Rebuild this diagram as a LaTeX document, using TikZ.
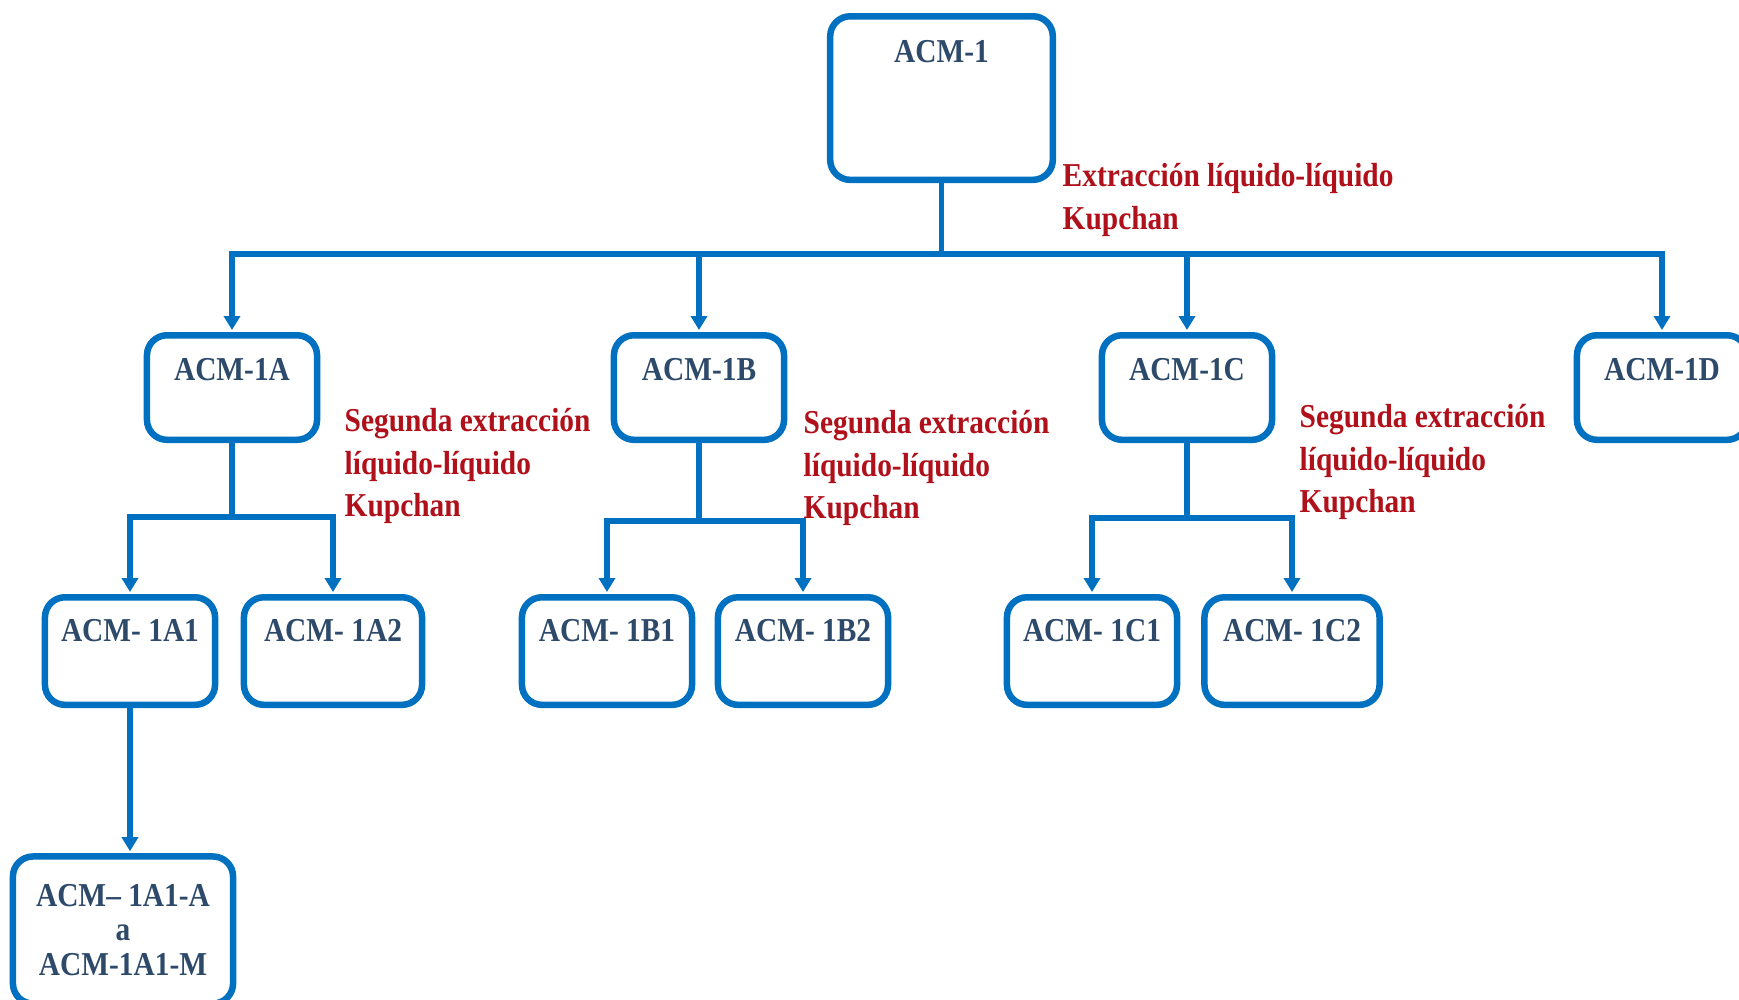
\documentclass[tikz,border=0pt]{standalone}
\usepackage{fontspec}
\setmainfont{Liberation Serif}[FakeStretch=0.88]
\usetikzlibrary{positioning,arrows.meta}
\definecolor{boxblue}{HTML}{0070C0}
\definecolor{idtext}{HTML}{2E4A6B}
\definecolor{stepred}{HTML}{B0101A}
\tikzset{
  box/.style={rectangle, draw=boxblue, line width=1.85pt, rounded corners=0.2cm, fill=white,
              inner sep=0pt, minimum width=1.70cm, anchor=north,
              font=\fontsize{9.5}{11}\selectfont\bfseries, text=idtext},
  lvltwo/.style={box, text height=0.45cm, text depth=0.595cm},
  lvlthree/.style={box, text height=0.44cm, text depth=0.635cm},
  note/.style={font=\fontsize{9.5}{12}\selectfont\bfseries, text=stepred,
               align=left, anchor=north west, inner sep=0pt},
  link/.style={draw=boxblue, line width=1.55pt},
  arr/.style={link, -{Triangle[width=0.16cm, length=0.14cm]}, shorten >=0.02cm},
}

\begin{document}
\begin{tikzpicture}[x=0.01cm, y=-0.01cm]
\useasboundingbox (0,0) rectangle (1739,999);

% crude extract
\node[box, minimum width=2.225cm, text height=0.46cm, text depth=1.175cm] (acm1) at (941.5,13) {ACM-1};
\node[note] (kupchan) at (1062,163) {Extracción líquido-líquido\\Kupchan};

% first partition
\node[lvltwo] (acm1a) at (232,332) {ACM-1A};
\node[lvltwo] (acm1b) at (699,332) {ACM-1B};
\node[lvltwo] (acm1c) at (1187,332) {ACM-1C};
\node[lvltwo] (acm1d) at (1662,332) {ACM-1D};

\coordinate (split1) at (941.5,254);
\draw[link] (acm1) -- (split1);
\foreach \n in {acm1a,acm1b,acm1c,acm1d}
  \draw[arr] (split1) -| (\n);

% second partition
\node[note] (kupa) at (344,408) {Segunda extracción\\líquido-líquido\\Kupchan};
\node[note] (kupb) at (803,410) {Segunda extracción\\líquido-líquido\\Kupchan};
\node[note] (kupc) at (1299,404) {Segunda extracción\\líquido-líquido\\Kupchan};

\node[lvlthree] (acm1a1) at (130,594) {ACM- 1A1};
\node[lvlthree, minimum width=1.78cm] (acm1a2) at (333,594) {ACM- 1A2};
\node[lvlthree] (acm1b1) at (607,594) {ACM- 1B1};
\node[lvlthree] (acm1b2) at (803,594) {ACM- 1B2};
\node[lvlthree] (acm1c1) at (1092,594) {ACM- 1C1};
\node[lvlthree, minimum width=1.75cm] (acm1c2) at (1292,594) {ACM- 1C2};

\coordinate (splita) at (232,517);
\coordinate (splitb) at (699,521);
\coordinate (splitc) at (1187,518);
\draw[link] (acm1a) -- (splita);
\draw[link] (acm1b) -- (splitb);
\draw[link] (acm1c) -- (splitc);
\draw[arr] (splita) -| (acm1a1);
\draw[arr] (splita) -| (acm1a2);
\draw[arr] (splitb) -| (acm1b1);
\draw[arr] (splitb) -| (acm1b2);
\draw[arr] (splitc) -| (acm1c1);
\draw[arr] (splitc) -| (acm1c2);

% column fractions
\node[box, anchor=center, minimum width=2.20cm, minimum height=1.47cm, align=center,
      font=\fontsize{9.5}{9.8}\selectfont\bfseries] (acm1af) at (123,930)
  {ACM– 1A1-A\\a\\ACM-1A1-M};
\draw[arr] (acm1a1.south) -- (acm1a1.south |- acm1af.north);
\end{tikzpicture}
\end{document}
